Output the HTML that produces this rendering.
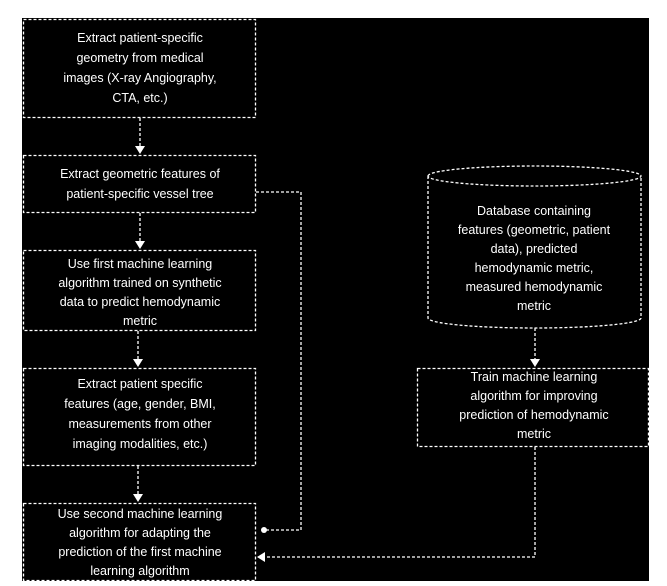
<!DOCTYPE html>
<html><head><meta charset="utf-8"><style>
html,body{margin:0;padding:0;background:#fff;}
svg{display:block;}
text{font-family:"Liberation Sans",sans-serif;font-size:12.5px;fill:#fff;text-anchor:middle;}
</style></head><body>
<svg width="667" height="586" viewBox="0 0 667 586" xmlns="http://www.w3.org/2000/svg">
<rect x="22" y="18" width="627" height="563" fill="#000"/>
<g fill="none" stroke="#fff" stroke-width="1.3" stroke-dasharray="3,2">
<rect x="23.5" y="19.5" width="232" height="98"/>
<rect x="23.5" y="155.5" width="232" height="57"/>
<rect x="23.5" y="250.5" width="232" height="80"/>
<rect x="23.5" y="368.5" width="232" height="97"/>
<rect x="23.5" y="503.5" width="232" height="77"/>
<rect x="417.5" y="368.5" width="231" height="78"/>
<path d="M428,176 A106.5,10 0 0 1 641,176 A106.5,10 0 0 1 428,176 M428,176 L428,318 A106.5,10 0 0 0 641,318 L641,176"/>
<path d="M140,118 V150 M140,213 V245 M138,331 V363 M138,466 V498 M535,328 V363"/>
<path d="M256,192 H301 V530 H262"/>
<path d="M535,447 V557 H262"/>
</g>
<g fill="#fff">
<polygon points="135,146 145,146 140,154"/>
<polygon points="135,241 145,241 140,249"/>
<polygon points="133,359 143,359 138,367"/>
<polygon points="133,494 143,494 138,502"/>
<polygon points="530,359 540,359 535,367"/>
<circle cx="264" cy="530" r="3"/>
<polygon points="257,557 265,552 265,562"/>
</g>
<text x="140" y="42">Extract patient-specific</text>
<text x="140" y="62">geometry from medical</text>
<text x="140" y="82">images (X-ray Angiography,</text>
<text x="140" y="102">CTA, etc.)</text>
<text x="140" y="178">Extract geometric features of</text>
<text x="140" y="198">patient-specific vessel tree</text>
<text x="140" y="268">Use first machine learning</text>
<text x="140" y="287">algorithm trained on synthetic</text>
<text x="140" y="306">data to predict hemodynamic</text>
<text x="140" y="325">metric</text>
<text x="140" y="388">Extract patient specific</text>
<text x="140" y="408">features (age, gender, BMI,</text>
<text x="140" y="428">measurements from other</text>
<text x="140" y="448">imaging modalities, etc.)</text>
<text x="140" y="518">Use second machine learning</text>
<text x="140" y="537">algorithm for adapting the</text>
<text x="140" y="556">prediction of the first machine</text>
<text x="140" y="575">learning algorithm</text>
<text x="534" y="215">Database containing</text>
<text x="534" y="234">features (geometric, patient</text>
<text x="534" y="253">data), predicted</text>
<text x="534" y="272">hemodynamic metric,</text>
<text x="534" y="291">measured hemodynamic</text>
<text x="534" y="310">metric</text>
<text x="534" y="381">Train machine learning</text>
<text x="534" y="400">algorithm for improving</text>
<text x="534" y="419">prediction of hemodynamic</text>
<text x="534" y="438">metric</text>
</svg>
</body></html>
